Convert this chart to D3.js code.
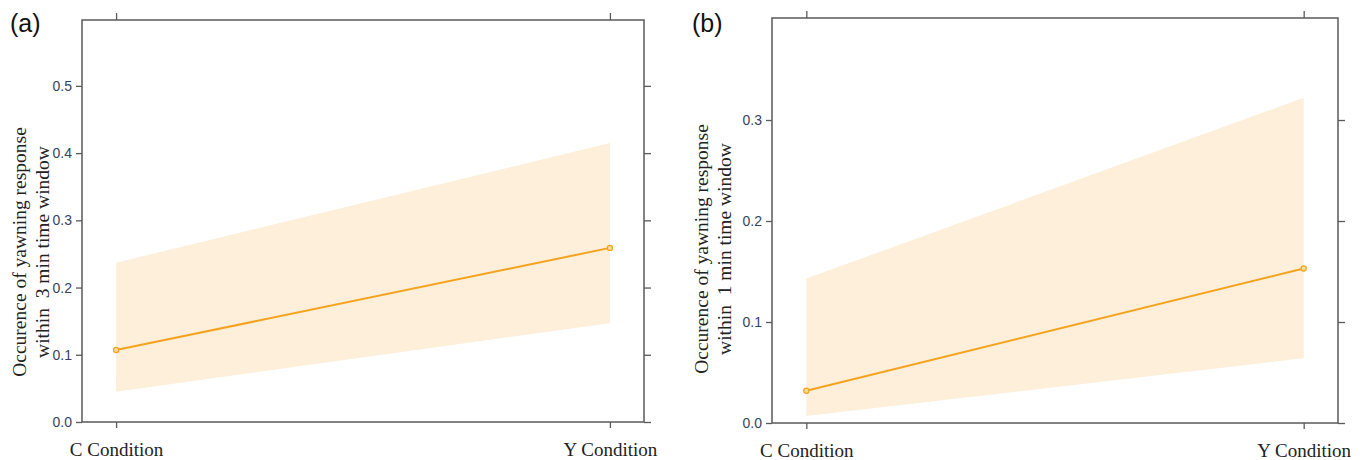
<!DOCTYPE html>
<html>
<head>
<meta charset="utf-8">
<script src="https://cdn.jsdelivr.net/npm/d3@7"></script>
<style>
  body { margin: 0; background: #fff; }
  svg { display: block; }
</style>
</head>
<body>
<div id="chart"></div>
<script>
// categories and effect estimates
const conditions = ["C Condition", "Y Condition"];

const fitA = [0.107, 0.259];
const lowerA = [0.045, 0.147];
const upperA = [0.237, 0.415];
const ticksA = [0.0, 0.1, 0.2, 0.3, 0.4, 0.5];

const fitB = [0.032, 0.153];
const lowerB = [0.007, 0.064];
const upperB = [0.143, 0.322];
const ticksB = [0.0, 0.1, 0.2, 0.3];

const LINE_COLOR = "#f5a31f";
const BAND_COLOR = "#fdefda";
const FRAME_COLOR = "#5a5a5a";

const svg = d3.select("#chart")
    .append("svg")
    .attr("width", 1362)
    .attr("height", 460);

function drawPanel(opts) {
    let g = svg.append("g");
    let x = d3.scalePoint()
        .domain(conditions)
        .range([opts.left, opts.right])
        .padding(0.069);
    let y = d3.scaleLinear()
        .domain(opts.yDomain)
        .range([opts.bottom, opts.top]);

    let rows = conditions.map((c, i) => ({
        cond: c, fit: opts.fit[i], lo: opts.lower[i], hi: opts.upper[i]
    }));

    // confidence band
    let area = d3.area()
        .x(d => x(d.cond))
        .y0(d => y(d.lo))
        .y1(d => y(d.hi));
    g.append("path")
        .datum(rows)
        .attr("d", area)
        .attr("fill", BAND_COLOR);

    // fitted line
    let line = d3.line()
        .x(d => x(d.cond))
        .y(d => y(d.fit));
    g.append("path")
        .datum(rows)
        .attr("d", line)
        .attr("fill", "none")
        .attr("stroke", LINE_COLOR)
        .attr("stroke-width", 2);

    g.selectAll("circle.pt")
        .data(rows)
        .enter()
        .append("circle")
        .attr("class", "pt")
        .attr("cx", d => x(d.cond))
        .attr("cy", d => y(d.fit))
        .attr("r", 2.6)
        .attr("fill", "#fcd9a0")
        .attr("stroke", LINE_COLOR)
        .attr("stroke-width", 1.2);

    // axes (lattice style: ticks on all four sides)
    let leftAxis = d3.axisLeft(y).tickValues(opts.ticks).tickFormat(d3.format(".1f")).tickSize(6).tickPadding(4);
    let rightAxis = d3.axisRight(y).tickValues(opts.ticks).tickFormat("").tickSize(7);
    let bottomAxis = d3.axisBottom(x).tickSize(6).tickPadding(15);
    let topAxis = d3.axisTop(x).tickFormat("").tickSize(7);

    let axes = [
        g.append("g").attr("transform", `translate(${opts.left},0)`).call(leftAxis),
        g.append("g").attr("transform", `translate(${opts.right},0)`).call(rightAxis),
        g.append("g").attr("transform", `translate(0,${opts.bottom})`).call(bottomAxis),
        g.append("g").attr("transform", `translate(0,${opts.top})`).call(topAxis)
    ];
    axes.forEach(a => {
        a.select(".domain").remove();
        a.selectAll(".tick line").attr("stroke", FRAME_COLOR).attr("stroke-width", 1.3);
    });
    axes[0].selectAll("text")
        .attr("font-family", "Liberation Sans, Arial, sans-serif")
        .attr("font-size", "14px")
        .attr("fill", "#35435c");
    axes[2].selectAll("text")
        .attr("font-family", "Liberation Serif, Times New Roman, serif")
        .attr("font-size", "19px")
        .attr("fill", "#222");

    // frame
    g.append("rect")
        .attr("x", opts.left)
        .attr("y", opts.top)
        .attr("width", opts.right - opts.left)
        .attr("height", opts.bottom - opts.top)
        .attr("fill", "none")
        .attr("stroke", FRAME_COLOR)
        .attr("stroke-width", 1.5);

    // y axis title (two lines)
    let cy = opts.titleY;
    opts.yTitle.forEach((t, i) => {
        g.append("text")
            .attr("transform", `translate(${opts.titleX + i * 23},${cy}) rotate(-90)`)
            .attr("text-anchor", "middle")
            .attr("font-family", "Liberation Serif, Times New Roman, serif")
            .attr("font-size", "19.5px")
            .attr("fill", "#222")
            .style("white-space", "pre")
            .text(t);
    });

    // panel label
    g.append("text")
        .attr("x", opts.labelX)
        .attr("y", 32)
        .attr("font-family", "Liberation Sans, Arial, sans-serif")
        .attr("font-size", "25px")
        .attr("fill", "#111")
        .text(opts.label);
}

drawPanel({
    left: 82, right: 644, top: 20, bottom: 422,
    yDomain: [0, 0.598],
    fit: fitA, lower: lowerA, upper: upperA, ticks: ticksA,
    yTitle: ["Occurence of yawning response", "within  3 min time window"],
    titleX: 26, titleY: 252, label: "(a)", labelX: 10
});

drawPanel({
    left: 772, right: 1338, top: 18, bottom: 423,
    yDomain: [0, 0.401],
    fit: fitB, lower: lowerB, upper: upperB, ticks: ticksB,
    yTitle: ["Occurence of yawning response", "within  1 min time window"],
    titleX: 708, titleY: 249, label: "(b)", labelX: 692
});
</script>
</body>
</html>
